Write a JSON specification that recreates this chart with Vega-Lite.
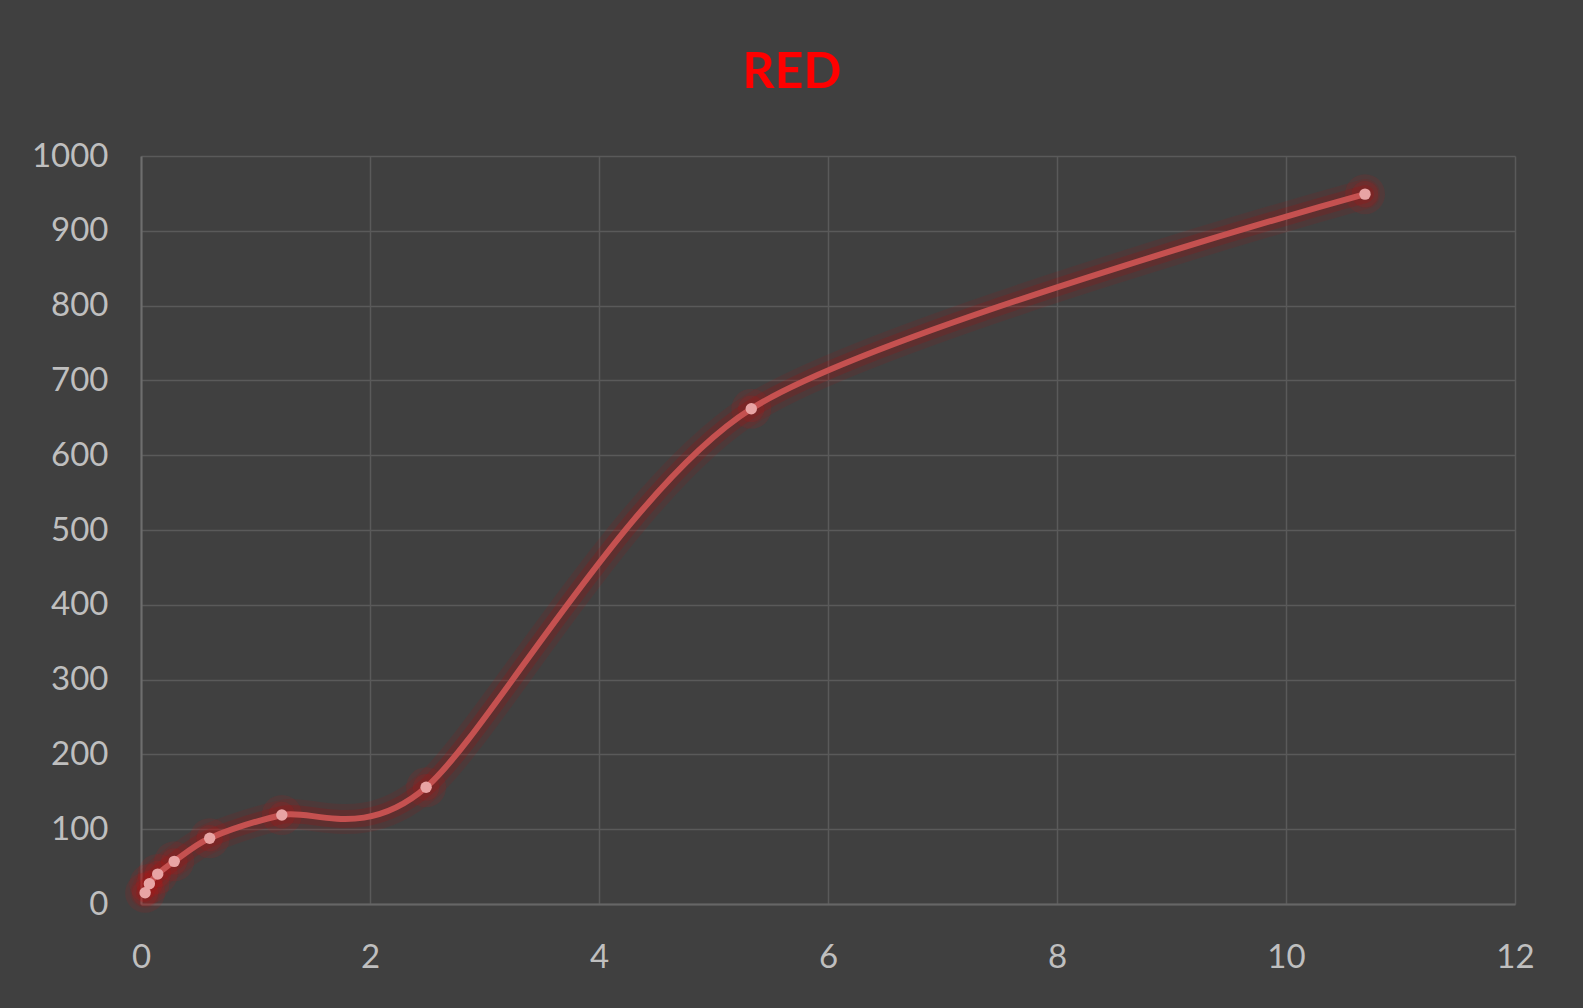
{
  "$schema": "https://vega.github.io/schema/vega-lite/v6.json",
  "width": 1374,
  "height": 748,
  "autosize": {"type": "none"},
  "padding": {"left": 141, "top": 156, "right": 68, "bottom": 104},
  "background": "#404040",
  "config": {
    "view": {"stroke": null},
    "font": "Lato"
  },
  "title": {
    "text": "RED",
    "color": "#FF0000",
    "font": "Lato",
    "fontWeight": "bold",
    "fontSize": 50,
    "anchor": "middle",
    "baseline": "alphabetic",
    "offset": 2,
    "dx": -36
  },
  "data": {
    "values": [
      {"x": 0.036, "y": 15},
      {"x": 0.073, "y": 27},
      {"x": 0.146, "y": 40},
      {"x": 0.29, "y": 57},
      {"x": 0.6, "y": 88},
      {"x": 1.23, "y": 119},
      {"x": 2.49, "y": 156},
      {"x": 5.33, "y": 662},
      {"x": 10.69, "y": 949}
    ]
  },
  "encoding": {
    "x": {
      "field": "x",
      "type": "quantitative",
      "scale": {"domain": [0, 12], "nice": false, "zero": false},
      "axis": {
        "title": null,
        "values": [0, 2, 4, 6, 8, 10, 12],
        "grid": true,
        "gridColor": "#5a5a5a",
        "gridWidth": 1.5,
        "domain": true,
        "domainColor": "#666666",
        "domainWidth": 2,
        "ticks": false,
        "labelColor": "#BFBFBF",
        "labelFont": "Lato",
        "labelFontSize": 33,
        "labelPadding": 37,
        "labelFlush": false
      }
    },
    "y": {
      "field": "y",
      "type": "quantitative",
      "scale": {"domain": [0, 1000], "nice": false},
      "axis": {
        "title": null,
        "format": "d",
        "values": [0, 100, 200, 300, 400, 500, 600, 700, 800, 900, 1000],
        "grid": true,
        "gridColor": "#5a5a5a",
        "gridWidth": 1.5,
        "domain": true,
        "domainColor": "#6e6e6e",
        "domainWidth": 2,
        "ticks": false,
        "labelColor": "#BFBFBF",
        "labelFont": "Lato",
        "labelFontSize": 33,
        "labelPadding": 33,
        "labelFlush": false
      }
    }
  },
  "layer": [
    {
      "mark": {"type": "line", "interpolate": "cardinal", "tension": 0.2, "color": "#C00000", "strokeWidth": 30, "opacity": 0.1, "strokeCap": "round", "strokeJoin": "round"}
    },
    {
      "mark": {"type": "line", "interpolate": "cardinal", "tension": 0.2, "color": "#C00000", "strokeWidth": 18, "opacity": 0.16, "strokeCap": "round", "strokeJoin": "round"}
    },
    {
      "mark": {"type": "point", "shape": "circle", "filled": true, "color": "#D01010", "size": 1600, "opacity": 0.12}
    },
    {
      "mark": {"type": "point", "shape": "circle", "filled": true, "color": "#D01010", "size": 700, "opacity": 0.15}
    },
    {
      "mark": {"type": "line", "interpolate": "cardinal", "tension": 0.2, "color": "#C55150", "strokeWidth": 6, "strokeCap": "round", "strokeJoin": "round"}
    },
    {
      "mark": {"type": "point", "shape": "circle", "filled": true, "color": "#E8A4A4", "size": 130, "opacity": 1}
    }
  ]
}
